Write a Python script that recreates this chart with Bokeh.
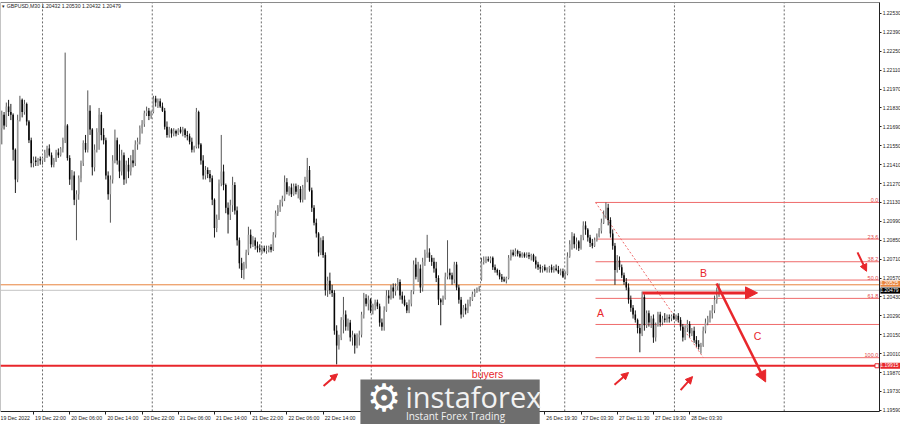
from bokeh.plotting import figure
from bokeh.models import (ColumnDataSource, FixedTicker, PrintfTickFormatter, LinearAxis,
                          Label, Arrow, NormalHead)
from bokeh.embed import file_html
from bokeh.resources import INLINE
from bokeh.core.properties import value

# ---------------- data (GBPUSD, M30) ----------------
open_ = [
 1.2168, 1.2178, 1.2170, 1.2184, 1.2180, 1.2178, 1.2152, 1.2130, 1.2174, 1.2189,
 1.2180, 1.2186, 1.2173, 1.2159, 1.2142, 1.2144, 1.2143, 1.2145, 1.2144, 1.2146,
 1.2150, 1.2153, 1.2148, 1.2141, 1.2144, 1.2150, 1.2148, 1.2153, 1.2159, 1.2170,
 1.2146, 1.2130, 1.2133, 1.2115, 1.2119, 1.2131, 1.2142, 1.2157, 1.2152, 1.2181,
 1.2167, 1.2139, 1.2152, 1.2165, 1.2178, 1.2163, 1.2159, 1.2133, 1.2119, 1.2130,
 1.2144, 1.2159, 1.2144, 1.2136, 1.2148, 1.2130, 1.2141, 1.2136, 1.2144, 1.2142,
 1.2156, 1.2158, 1.2168, 1.2171, 1.2179, 1.2181, 1.2177, 1.2180, 1.2190, 1.2187,
 1.2188, 1.2184, 1.2181, 1.2169, 1.2163, 1.2167, 1.2164, 1.2166, 1.2164, 1.2167,
 1.2165, 1.2167, 1.2163, 1.2162, 1.2158, 1.2152, 1.2154, 1.2180, 1.2156, 1.2144,
 1.2133, 1.2137, 1.2134, 1.2131, 1.2115, 1.2094, 1.2101, 1.2127, 1.2136, 1.2126,
 1.2109, 1.2104, 1.2111, 1.2126, 1.2107, 1.2085, 1.2068, 1.2063, 1.2067, 1.2076,
 1.2089, 1.2082, 1.2085, 1.2081, 1.2079, 1.2078, 1.2079, 1.2077, 1.2078, 1.2080,
 1.2078, 1.2089, 1.2105, 1.2109, 1.2113, 1.2116, 1.2128, 1.2121, 1.2124, 1.2119,
 1.2125, 1.2121, 1.2123, 1.2115, 1.2124, 1.2130, 1.2137, 1.2122, 1.2109, 1.2098,
 1.2090, 1.2076, 1.2085, 1.2074, 1.2048, 1.2055, 1.2048, 1.2046, 1.2018, 1.2007,
 1.2013, 1.2026, 1.2030, 1.2021, 1.2024, 1.2013, 1.2015, 1.2007, 1.2013, 1.2015,
 1.2030, 1.2042, 1.2038, 1.2041, 1.2033, 1.2037, 1.2039, 1.2036, 1.2024, 1.2021,
 1.2033, 1.2044, 1.2042, 1.2050, 1.2047, 1.2051, 1.2054, 1.2044, 1.2041, 1.2037,
 1.2033, 1.2038, 1.2047, 1.2067, 1.2058, 1.2064, 1.2050, 1.2069, 1.2075, 1.2076,
 1.2072, 1.2069, 1.2064, 1.2057, 1.2041, 1.2039, 1.2042, 1.2058, 1.2061, 1.2059,
 1.2056, 1.2067, 1.2050, 1.2041, 1.2030, 1.2035, 1.2033, 1.2038, 1.2041, 1.2045,
 1.2047, 1.2049, 1.2056, 1.2069, 1.2070, 1.2071, 1.2070, 1.2072, 1.2065, 1.2063,
 1.2061, 1.2058, 1.2056, 1.2055, 1.2057, 1.2072, 1.2076, 1.2074, 1.2077, 1.2075,
 1.2073, 1.2075, 1.2073, 1.2074, 1.2073, 1.2074, 1.2070, 1.2067, 1.2065, 1.2064,
 1.2065, 1.2063, 1.2064, 1.2065, 1.2063, 1.2064, 1.2063, 1.2061, 1.2062, 1.2058,
 1.2060, 1.2073, 1.2082, 1.2088, 1.2082, 1.2084, 1.2079, 1.2087, 1.2096, 1.2093,
 1.2087, 1.2083, 1.2081, 1.2085, 1.2088, 1.2092, 1.2098, 1.2104, 1.2109, 1.2100,
 1.2090, 1.2081, 1.2063, 1.2070, 1.2065, 1.2059, 1.2054, 1.2050, 1.2041, 1.2035,
 1.2030, 1.2026, 1.2020, 1.2016, 1.2043, 1.2022, 1.2031, 1.2024, 1.2027, 1.2013,
 1.2022, 1.2030, 1.2024, 1.2027, 1.2026, 1.2028, 1.2027, 1.2029, 1.2027, 1.2029,
 1.2026, 1.2021, 1.2013, 1.2020, 1.2023, 1.2016, 1.2018, 1.2011, 1.2008, 1.2006,
 1.2007, 1.2018, 1.2024, 1.2027, 1.2031, 1.2033, 1.2041, 1.20432]

high = [
 1.2181, 1.2180, 1.2187, 1.2189, 1.2186, 1.2179, 1.2153, 1.2178, 1.2192, 1.2190,
 1.2189, 1.2187, 1.2174, 1.2161, 1.2147, 1.2147, 1.2146, 1.2147, 1.2147, 1.2152,
 1.2155, 1.2156, 1.2150, 1.2146, 1.2152, 1.2153, 1.2154, 1.2161, 1.2224, 1.2171,
 1.2148, 1.2137, 1.2136, 1.2122, 1.2133, 1.2144, 1.2159, 1.2163, 1.2196, 1.2185,
 1.2168, 1.2156, 1.2168, 1.2183, 1.2180, 1.2168, 1.2161, 1.2136, 1.2133, 1.2148,
 1.2167, 1.2161, 1.2156, 1.2152, 1.2150, 1.2144, 1.2146, 1.2148, 1.2152, 1.2159,
 1.2161, 1.2170, 1.2174, 1.2181, 1.2184, 1.2183, 1.2181, 1.2192, 1.2192, 1.2190,
 1.2190, 1.2187, 1.2183, 1.2173, 1.2169, 1.2168, 1.2168, 1.2167, 1.2168, 1.2169,
 1.2169, 1.2168, 1.2166, 1.2164, 1.2161, 1.2155, 1.2183, 1.2181, 1.2157, 1.2148,
 1.2140, 1.2139, 1.2137, 1.2133, 1.2116, 1.2104, 1.2130, 1.2163, 1.2141, 1.2127,
 1.2113, 1.2115, 1.2132, 1.2128, 1.2110, 1.2087, 1.2072, 1.2069, 1.2078, 1.2095,
 1.2093, 1.2088, 1.2087, 1.2084, 1.2082, 1.2081, 1.2081, 1.2081, 1.2081, 1.2082,
 1.2091, 1.2107, 1.2111, 1.2115, 1.2118, 1.2133, 1.2131, 1.2125, 1.2127, 1.2127,
 1.2127, 1.2126, 1.2125, 1.2126, 1.2132, 1.2146, 1.2140, 1.2124, 1.2111, 1.2101,
 1.2091, 1.2087, 1.2088, 1.2076, 1.2058, 1.2061, 1.2052, 1.2048, 1.2022, 1.2015,
 1.2028, 1.2043, 1.2033, 1.2027, 1.2026, 1.2018, 1.2016, 1.2016, 1.2018, 1.2032,
 1.2046, 1.2045, 1.2044, 1.2042, 1.2038, 1.2041, 1.2041, 1.2038, 1.2027, 1.2036,
 1.2048, 1.2048, 1.2052, 1.2053, 1.2053, 1.2057, 1.2056, 1.2047, 1.2044, 1.2039,
 1.2041, 1.2048, 1.2070, 1.2072, 1.2069, 1.2067, 1.2072, 1.2078, 1.2089, 1.2079,
 1.2074, 1.2072, 1.2069, 1.2059, 1.2042, 1.2044, 1.2061, 1.2085, 1.2064, 1.2061,
 1.2069, 1.2069, 1.2052, 1.2043, 1.2037, 1.2038, 1.2041, 1.2043, 1.2047, 1.2049,
 1.2050, 1.2051, 1.2072, 1.2073, 1.2073, 1.2073, 1.2073, 1.2073, 1.2067, 1.2064,
 1.2063, 1.2060, 1.2058, 1.2058, 1.2074, 1.2078, 1.2078, 1.2079, 1.2078, 1.2077,
 1.2076, 1.2076, 1.2076, 1.2076, 1.2075, 1.2075, 1.2073, 1.2069, 1.2067, 1.2066,
 1.2067, 1.2065, 1.2066, 1.2067, 1.2066, 1.2067, 1.2066, 1.2064, 1.2064, 1.2062,
 1.2076, 1.2085, 1.2091, 1.2090, 1.2087, 1.2085, 1.2089, 1.2099, 1.2099, 1.2094,
 1.2089, 1.2086, 1.2087, 1.2090, 1.2094, 1.2101, 1.2107, 1.2113, 1.2112, 1.2102,
 1.2093, 1.2083, 1.2074, 1.2073, 1.2067, 1.2061, 1.2057, 1.2053, 1.2044, 1.2037,
 1.2033, 1.2027, 1.2023, 1.2047, 1.2045, 1.2033, 1.2033, 1.2029, 1.2030, 1.2024,
 1.2032, 1.2032, 1.2029, 1.2031, 1.2030, 1.2030, 1.2030, 1.2031, 1.2030, 1.2031,
 1.2028, 1.2023, 1.2022, 1.2026, 1.2025, 1.2020, 1.2021, 1.2014, 1.2011, 1.2009,
 1.2021, 1.2027, 1.2029, 1.2033, 1.2037, 1.2044, 1.2050, 1.20530]

low = [
 1.2156, 1.2167, 1.2169, 1.2177, 1.2174, 1.2144, 1.2120, 1.2128, 1.2173, 1.2176,
 1.2178, 1.2170, 1.2157, 1.2139, 1.2139, 1.2140, 1.2140, 1.2141, 1.2141, 1.2143,
 1.2146, 1.2147, 1.2139, 1.2139, 1.2143, 1.2146, 1.2147, 1.2150, 1.2157, 1.2144,
 1.2126, 1.2122, 1.2111, 1.2085, 1.2115, 1.2128, 1.2140, 1.2150, 1.2150, 1.2163,
 1.2133, 1.2136, 1.2150, 1.2152, 1.2159, 1.2156, 1.2130, 1.2115, 1.2098, 1.2127,
 1.2142, 1.2141, 1.2131, 1.2133, 1.2126, 1.2127, 1.2131, 1.2133, 1.2139, 1.2140,
 1.2152, 1.2156, 1.2164, 1.2169, 1.2177, 1.2174, 1.2175, 1.2179, 1.2184, 1.2183,
 1.2183, 1.2180, 1.2167, 1.2161, 1.2161, 1.2161, 1.2162, 1.2162, 1.2163, 1.2164,
 1.2162, 1.2161, 1.2159, 1.2156, 1.2150, 1.2150, 1.2153, 1.2153, 1.2141, 1.2130,
 1.2130, 1.2131, 1.2128, 1.2111, 1.2087, 1.2091, 1.2100, 1.2125, 1.2122, 1.2105,
 1.2090, 1.2100, 1.2106, 1.2104, 1.2081, 1.2064, 1.2057, 1.2056, 1.2064, 1.2074,
 1.2079, 1.2080, 1.2078, 1.2076, 1.2076, 1.2075, 1.2076, 1.2075, 1.2076, 1.2076,
 1.2077, 1.2087, 1.2103, 1.2106, 1.2110, 1.2114, 1.2119, 1.2118, 1.2117, 1.2118,
 1.2119, 1.2116, 1.2113, 1.2113, 1.2115, 1.2128, 1.2121, 1.2106, 1.2096, 1.2087,
 1.2073, 1.2074, 1.2072, 1.2044, 1.2043, 1.2045, 1.2043, 1.2015, 1.1993, 1.2004,
 1.2011, 1.2016, 1.2018, 1.2018, 1.2010, 1.2007, 1.2001, 1.2005, 1.2007, 1.2013,
 1.2027, 1.2036, 1.2033, 1.2031, 1.2030, 1.2033, 1.2034, 1.2021, 1.2018, 1.2018,
 1.2032, 1.2038, 1.2041, 1.2042, 1.2044, 1.2048, 1.2041, 1.2038, 1.2036, 1.2031,
 1.2031, 1.2036, 1.2045, 1.2056, 1.2054, 1.2046, 1.2047, 1.2066, 1.2072, 1.2069,
 1.2066, 1.2061, 1.2054, 1.2037, 1.2022, 1.2037, 1.2041, 1.2056, 1.2056, 1.2052,
 1.2053, 1.2048, 1.2038, 1.2027, 1.2028, 1.2030, 1.2031, 1.2036, 1.2040, 1.2043,
 1.2046, 1.2047, 1.2055, 1.2067, 1.2068, 1.2069, 1.2068, 1.2063, 1.2061, 1.2059,
 1.2056, 1.2054, 1.2054, 1.2053, 1.2056, 1.2070, 1.2073, 1.2073, 1.2073, 1.2072,
 1.2072, 1.2072, 1.2072, 1.2071, 1.2070, 1.2069, 1.2064, 1.2063, 1.2061, 1.2061,
 1.2062, 1.2061, 1.2061, 1.2061, 1.2061, 1.2062, 1.2060, 1.2059, 1.2057, 1.2056,
 1.2059, 1.2072, 1.2078, 1.2079, 1.2078, 1.2077, 1.2078, 1.2085, 1.2089, 1.2084,
 1.2080, 1.2079, 1.2080, 1.2084, 1.2087, 1.2090, 1.2097, 1.2101, 1.2096, 1.2087,
 1.2078, 1.2052, 1.2061, 1.2063, 1.2057, 1.2052, 1.2048, 1.2038, 1.2032, 1.2027,
 1.2024, 1.2016, 1.2002, 1.2014, 1.2018, 1.2020, 1.2021, 1.2020, 1.2009, 1.2010,
 1.2021, 1.2021, 1.2022, 1.2024, 1.2024, 1.2024, 1.2025, 1.2026, 1.2025, 1.2024,
 1.2018, 1.2010, 1.2011, 1.2017, 1.2013, 1.2014, 1.2009, 1.2006, 1.2004, 1.2001,
 1.2006, 1.2016, 1.2022, 1.2024, 1.2027, 1.2031, 1.2038, 1.20432]

close = [
 1.2178, 1.2170, 1.2184, 1.2180, 1.2178, 1.2152, 1.2130, 1.2174, 1.2189, 1.2180,
 1.2186, 1.2173, 1.2159, 1.2142, 1.2144, 1.2143, 1.2145, 1.2144, 1.2146, 1.2150,
 1.2153, 1.2148, 1.2141, 1.2144, 1.2150, 1.2148, 1.2153, 1.2159, 1.2170, 1.2146,
 1.2130, 1.2133, 1.2115, 1.2119, 1.2131, 1.2142, 1.2157, 1.2152, 1.2181, 1.2167,
 1.2139, 1.2152, 1.2165, 1.2178, 1.2163, 1.2159, 1.2133, 1.2119, 1.2130, 1.2144,
 1.2159, 1.2144, 1.2136, 1.2148, 1.2130, 1.2141, 1.2136, 1.2144, 1.2142, 1.2156,
 1.2158, 1.2168, 1.2171, 1.2179, 1.2181, 1.2177, 1.2180, 1.2190, 1.2187, 1.2188,
 1.2184, 1.2181, 1.2169, 1.2163, 1.2167, 1.2164, 1.2166, 1.2164, 1.2167, 1.2165,
 1.2167, 1.2163, 1.2162, 1.2158, 1.2152, 1.2154, 1.2180, 1.2156, 1.2144, 1.2133,
 1.2137, 1.2134, 1.2131, 1.2115, 1.2094, 1.2101, 1.2127, 1.2136, 1.2126, 1.2109,
 1.2104, 1.2111, 1.2126, 1.2107, 1.2085, 1.2068, 1.2063, 1.2067, 1.2076, 1.2089,
 1.2082, 1.2085, 1.2081, 1.2079, 1.2078, 1.2079, 1.2077, 1.2078, 1.2080, 1.2078,
 1.2089, 1.2105, 1.2109, 1.2113, 1.2116, 1.2128, 1.2121, 1.2124, 1.2119, 1.2125,
 1.2121, 1.2123, 1.2115, 1.2124, 1.2130, 1.2137, 1.2122, 1.2109, 1.2098, 1.2090,
 1.2076, 1.2085, 1.2074, 1.2048, 1.2055, 1.2048, 1.2046, 1.2018, 1.2007, 1.2013,
 1.2026, 1.2030, 1.2021, 1.2024, 1.2013, 1.2015, 1.2007, 1.2013, 1.2015, 1.2030,
 1.2042, 1.2038, 1.2041, 1.2033, 1.2037, 1.2039, 1.2036, 1.2024, 1.2021, 1.2033,
 1.2044, 1.2042, 1.2050, 1.2047, 1.2051, 1.2054, 1.2044, 1.2041, 1.2037, 1.2033,
 1.2038, 1.2047, 1.2067, 1.2058, 1.2064, 1.2050, 1.2069, 1.2075, 1.2076, 1.2072,
 1.2069, 1.2064, 1.2057, 1.2041, 1.2039, 1.2042, 1.2058, 1.2061, 1.2059, 1.2056,
 1.2067, 1.2050, 1.2041, 1.2030, 1.2035, 1.2033, 1.2038, 1.2041, 1.2045, 1.2047,
 1.2049, 1.2050, 1.2069, 1.2070, 1.2071, 1.2070, 1.2072, 1.2065, 1.2063, 1.2061,
 1.2058, 1.2056, 1.2055, 1.2057, 1.2072, 1.2076, 1.2074, 1.2077, 1.2075, 1.2073,
 1.2075, 1.2073, 1.2074, 1.2073, 1.2074, 1.2070, 1.2067, 1.2065, 1.2064, 1.2065,
 1.2063, 1.2064, 1.2065, 1.2063, 1.2064, 1.2063, 1.2061, 1.2062, 1.2058, 1.2060,
 1.2073, 1.2082, 1.2088, 1.2082, 1.2084, 1.2079, 1.2087, 1.2096, 1.2093, 1.2087,
 1.2083, 1.2081, 1.2085, 1.2088, 1.2092, 1.2098, 1.2104, 1.2109, 1.2100, 1.2090,
 1.2081, 1.2063, 1.2070, 1.2065, 1.2059, 1.2054, 1.2050, 1.2041, 1.2035, 1.2030,
 1.2026, 1.2020, 1.2016, 1.2043, 1.2022, 1.2031, 1.2024, 1.2027, 1.2013, 1.2022,
 1.2030, 1.2024, 1.2027, 1.2026, 1.2028, 1.2027, 1.2029, 1.2027, 1.2029, 1.2026,
 1.2021, 1.2013, 1.2020, 1.2023, 1.2016, 1.2018, 1.2011, 1.2008, 1.2006, 1.2007,
 1.2018, 1.2024, 1.2027, 1.2031, 1.2033, 1.2041, 1.2044, 1.20479]

# time axis (bar index of each labelled bar)
time_ticks = [-2, 14, 30, 46, 62, 78, 94, 110, 126, 142, 240, 256, 272, 288, 304]
time_labels = ["19 Dec 2022", "19 Dec 22:00", "20 Dec 06:00", "20 Dec 14:00",
               "20 Dec 22:00", "21 Dec 06:00", "21 Dec 14:00", "21 Dec 22:00",
               "22 Dec 06:00", "22 Dec 14:00", "26 Dec 19:30", "27 Dec 03:30",
               "27 Dec 11:30", "27 Dec 19:30", "28 Dec 03:30"]
day_lines = [18, 66.5, 114.7, 163.3, 211.6, 248.8, 297.3, 345.8]
price_ticks = [1.19590, 1.19730, 1.19870, 1.20010, 1.20150, 1.20290, 1.20430,
               1.20570, 1.20710, 1.20850, 1.20990, 1.21130, 1.21270, 1.21410,
               1.21550, 1.21690, 1.21830, 1.21970, 1.22110, 1.22250, 1.22390, 1.22530]

# Fibonacci retracement
fib_high, fib_low = 1.2113, 1.1998
fib_start_bar, fib_end_bar = 262.4, 310.1
fib_levels = [0.0, 23.6, 38.2, 50.0, 61.8, 78.6, 100.0]
fib_labels = ["0.0", "23.6", "38.2", "50.0", "61.8", "", "100.0"]

# horizontal levels
resistance_level = 1.2052
bid_level = 1.20479
buyers_level = 1.1992

# annotation arrows: (bar_start, price_start, bar_end, price_end)
arrow_flat = (283.2, 1.2046, 334.0, 1.2046)
arrow_down = (315.9, 1.2053, 337.6, 1.1980)
arrow_small_down = (378.2, 1.2076, 382.2, 1.2062)
arrows_up = [(142.2, 1.1977, 148.4, 1.1986), (270.8, 1.1978, 277.0, 1.1987),
             (300.0, 1.1974, 305.3, 1.1984)]
wave_text = ["A", "B", "C", "buyers"]
wave_x = [264.6, 310.1, 334.0, 214.7]
wave_y = [1.2031, 1.2061, 1.2014, 1.19856]

# ---------------- figure ----------------
RED = "#e8262b"
FIB = "#ef6b6b"
# the whole canvas is the data frame; the chart box is a sub-rectangle of it
XC0, XC1 = -0.575, 388.0          # chart box, bar index
YC0, YC1 = 1.19582, 1.22611       # chart box, price
X0, X1 = -0.575, 397.2            # canvas
Y0, Y1 = 1.19485, 1.22626
FONT = "Liberation Sans"

p = figure(width=900, height=424, output_backend="svg", toolbar_location=None,
           x_range=(X0, X1), y_range=(Y0, Y1), x_axis_location=None,
           y_axis_location=None, title=None, min_border=0,
           background_fill_color="white", border_fill_color="white")
p.outline_line_color = None
for g in p.grid:
    g.visible = False

# dotted day separators inside the chart box
p.segment(x0=day_lines, y0=[YC0] * len(day_lines), x1=day_lines, y1=[YC1] * len(day_lines),
          line_color="#6a6a6a", line_width=1, line_dash="2 2")
# chart box top / left border
p.segment(x0=[XC0, XC0], y0=[YC1, YC0], x1=[XC1, XC0], y1=[YC1, YC1],
          line_color="#8a8a8a", line_width=1)

# x axis: labels start just right of each tick, like MT4
shift = 7.5
label_pos = [t + shift for t in time_ticks]
xaxis = LinearAxis(fixed_location=YC0, bounds=(XC0, XC1),
                   ticker=FixedTicker(ticks=label_pos, minor_ticks=time_ticks))
xaxis.major_label_overrides = {pos: lab for pos, lab in zip(label_pos, time_labels)}
xaxis.major_tick_out = 0
xaxis.major_tick_in = 0
xaxis.minor_tick_out = 3
xaxis.minor_tick_in = 0
xaxis.minor_tick_line_color = "#222222"
xaxis.axis_line_color = "#222222"
xaxis.major_label_text_font_size = "5.2px"
xaxis.major_label_text_font = FONT
xaxis.major_label_text_color = "#222222"
xaxis.major_label_standoff = 1
p.add_layout(xaxis, "below")

# y axis on the right edge of the chart box
yaxis = LinearAxis(fixed_location=XC1, bounds=(YC0, YC1),
                   ticker=FixedTicker(ticks=price_ticks),
                   formatter=PrintfTickFormatter(format="%.5f"))
yaxis.major_tick_out = 2
yaxis.major_tick_in = 0
yaxis.minor_tick_line_color = None
yaxis.axis_line_color = "#222222"
yaxis.major_tick_line_color = "#222222"
yaxis.major_label_text_font_size = "5px"
yaxis.major_label_text_font = FONT
yaxis.major_label_text_color = "#222222"
yaxis.major_label_standoff = 1
p.add_layout(yaxis, "right")

# ---------------- horizontal lines ----------------
p.segment(x0=[XC0, XC0], y0=[resistance_level, bid_level], x1=[XC1, XC1],
          y1=[resistance_level, bid_level], line_color=["#e8843e", "#c4c4c4"], line_width=1)

# fib lines
fib_prices = [fib_high - (fib_high - fib_low) * lv / 100.0 for lv in fib_levels]
p.segment(x0=[fib_start_bar] * len(fib_prices), y0=fib_prices,
          x1=[XC1] * len(fib_prices), y1=fib_prices, line_color=FIB, line_width=1)
p.text(x=[XC1 - 0.6] * len(fib_prices), y=[fp + 0.00003 for fp in fib_prices],
       text=fib_labels, text_color="#e04848", text_font_size="5.5px",
       text_font=value(FONT), text_align="right", text_baseline="bottom")
p.line([fib_start_bar, fib_end_bar], [fib_high, fib_low], line_color=FIB,
       line_width=1, line_dash="2 2")

# ---------------- candles ----------------
bars = list(range(len(close)))
up = [c >= o for o, c in zip(open_, close)]
src_up = ColumnDataSource(dict(
    x=[b for b, u in zip(bars, up) if u],
    top=[c for c, u in zip(close, up) if u],
    bottom=[o for o, u in zip(open_, up) if u],
    high=[h for h, u in zip(high, up) if u],
    low=[l for l, u in zip(low, up) if u]))
src_dn = ColumnDataSource(dict(
    x=[b for b, u in zip(bars, up) if not u],
    top=[o for o, u in zip(open_, up) if not u],
    bottom=[c for c, u in zip(close, up) if not u],
    high=[h for h, u in zip(high, up) if not u],
    low=[l for l, u in zip(low, up) if not u]))
for src, wick in ((src_up, "#555555"), (src_dn, "#1a1a1a")):
    p.segment(x0="x", y0="high", x1="x", y1="low", source=src,
              line_color=wick, line_width=1)
p.vbar(x="x", width=0.68, top="top", bottom="bottom", source=src_up,
       fill_color="#9b9b9b", line_color=None)
p.vbar(x="x", width=0.68, top="top", bottom="bottom", source=src_dn,
       fill_color="#050505", line_color=None)

# buyers support line (on top of candles)
p.segment(x0=[XC0], y0=[buyers_level], x1=[XC1], y1=[buyers_level],
          line_color=RED, line_width=2)
p.scatter(x=[XC1 - 1.2], y=[buyers_level], marker="square", size=4,
          fill_color="white", line_color=RED, line_width=1)

# ---------------- arrows & wave labels ----------------
def add_arrow(seg, width, size):
    xs, ys, xe, ye = seg
    p.add_layout(Arrow(end=NormalHead(size=size, fill_color=RED, line_color=RED,
                                      line_width=1),
                       x_start=xs, y_start=ys, x_end=xe, y_end=ye,
                       line_color=RED, line_width=width))

add_arrow(arrow_flat, 3, 12)
add_arrow(arrow_down, 2.5, 11)
add_arrow(arrow_small_down, 2, 7)
for a in arrows_up:
    add_arrow(a, 2, 7)

p.text(x=wave_x, y=wave_y, text=wave_text, text_color=RED, text_font_size="10.5px",
       text_font=value(FONT), text_align="center", text_baseline="middle")

# ---------------- symbol caption ----------------
p.add_layout(Label(x=0.2, y=1.22585, text="\u25be GBPUSD,M30  1.20432 1.20530 1.20432 1.20479",
                   text_font_size="5.2px", text_font=FONT, text_color="#222222",
                   text_baseline="middle", text_align="left"))

# ---------------- price badges on the axis ----------------
for lvl, txt, bg in ((resistance_level + 0.00008, "1.20525", "#e8843e"),
                     (bid_level - 0.00002, "1.20479", "#000000"),
                     (buyers_level, "1.19915", RED)):
    p.add_layout(Label(x=XC1 + 0.3, y=lvl, text=txt, text_font_size="5px",
                       text_font=FONT, text_color="white", text_align="left",
                       text_baseline="middle", background_fill_color=bg,
                       padding=(0, 2, 0, 2)))

# ---------------- watermark ----------------
p.add_layout(Label(x=158.5, y=1.19819, text=" ", text_font_size="1px",
                   text_align="left", text_baseline="top",
                   background_fill_color="#6e6e6e", padding=(0, 179, 60, 0)))
p.add_layout(Label(x=168.9, y=1.19685, text="\u2699", text_font_size="38px",
                   text_font="DejaVu Sans", text_color="white",
                   text_align="center", text_baseline="middle"))
p.add_layout(Label(x=178.4, y=1.19834, text="instaforex", text_font_size="29px",
                   text_font="Open Sans", text_color="#f2f2f2",
                   text_align="left", text_baseline="top"))
p.add_layout(Label(x=178.6, y=1.19548, text="Instant Forex Trading",
                   text_font_size="10px", text_font="Open Sans",
                   text_color="#f2f2f2", text_align="left", text_baseline="middle"))

open("out.html", "w").write(file_html(p, INLINE))
